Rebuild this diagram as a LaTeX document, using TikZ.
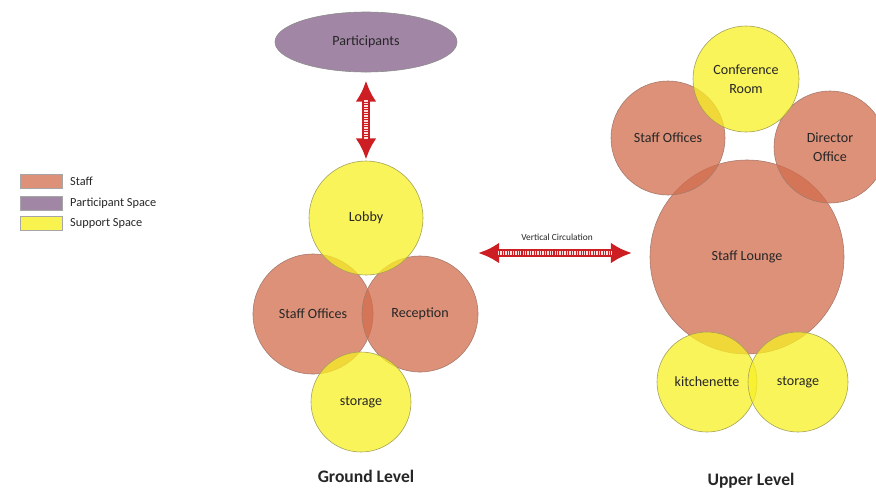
\documentclass[tikz,border=0pt]{standalone}
\usepackage{fontspec}
\setmainfont{Carlito}
\usetikzlibrary{shapes.geometric,arrows.meta,positioning}

\definecolor{staffc}{RGB}{210,108,76}
\definecolor{suppc}{RGB}{248,240,36}
\definecolor{partc}{RGB}{162,134,166}
\definecolor{circred}{RGB}{205,30,35}

\begin{document}
\begin{tikzpicture}[x=0.03cm,y=-0.03cm,
    every node/.style={font=\fontsize{12}{16.5}\selectfont,text=black!85},
    room/.style={circle,draw=black!45,line width=0.5pt,fill opacity=0.75,
      text opacity=1,inner sep=0pt,align=center},
    staff/.style={room,fill=staffc,draw=staffc!60!black!70},
    support/.style={room,fill=suppc,draw=suppc!50!black!70},
    swatch/.style={rectangle,draw=black!35,line width=0.4pt,minimum width=1.26cm,
      minimum height=0.42cm,inner sep=0pt},
    legtext/.style={right,font=\fontsize{10.5}{12}\selectfont,inner sep=0pt},
    circ/.style={circred,line width=6.5pt,
      {Latex[length=18pt,width=18pt]}-{Latex[length=18pt,width=18pt]}},
    circstripe/.style={red!12,line width=4pt,dash pattern=on 1.2pt off 0.9pt},
    level/.style={font=\fontsize{15}{18}\selectfont\bfseries}]

    \clip (0,0) rectangle (876,492);

    % legend
    \node[swatch,fill=staffc!75!white] (kStaff) at (41,181) {};
    \node[swatch,fill=partc] (kPart) at (41,203) {};
    \node[swatch,fill=suppc!80!white] (kSupp) at (41,223) {};
    \node[legtext] (tStaff) at (70,181) {Staff};
    \node[legtext] (tPart) at (70,203) {Participant Space};
    \node[legtext] (tSupp) at (70,223) {Support Space};

    % ground level
    \node[ellipse,fill=partc,draw=black!45,line width=0.5pt,minimum width=5.46cm,
      minimum height=1.8cm] (part) at (366,42) {Participants};

    \node[staff,minimum size=3.6cm] (gOffice) at (313,314) {Staff Offices};
    \node[staff,minimum size=3.48cm] (recep) at (420,314) {Reception};
    \node[support,minimum size=3.42cm] (lobby) at (366,218) {Lobby};
    \node[support,minimum size=3.0cm] (gStore) at (361,402) {storage};

    \node[level] (ground) at (366,476) {Ground Level};

    % upper level
    \node[staff,minimum size=5.82cm] (lounge) at (747,257) {Staff Lounge};
    \node[staff,minimum size=3.42cm] (uOffice) at (668,138) {Staff Offices};
    \node[staff,minimum size=3.36cm] (direct) at (830,147) {Director\\Office};
    \node[support,minimum size=3.18cm] (confer) at (746,79) {Conference\\Room};
    \node[support,minimum size=3.0cm] (kitch) at (707,382) {kitchenette};
    \node[support,minimum size=3.0cm] (uStore) at (798,382) {storage};

    \node[level] (upper) at (751,481) {Upper Level};

    % circulation
    \draw[circ,shorten <=7pt,shorten >=1pt] (part) -- (lobby);
    \draw[circstripe,shorten <=24pt,shorten >=18pt] (part) -- (lobby);

    \coordinate (vcL) at (478,253);
    \coordinate (vcR) at (632,253);
    \draw[circ] (vcL) -- (vcR);
    \draw[circstripe,shorten <=17pt,shorten >=17pt] (vcL) -- (vcR);
    \node[font=\fontsize{8}{10}\selectfont] (vcText) at (557,237) {Vertical Circulation};
\end{tikzpicture}
\end{document}
